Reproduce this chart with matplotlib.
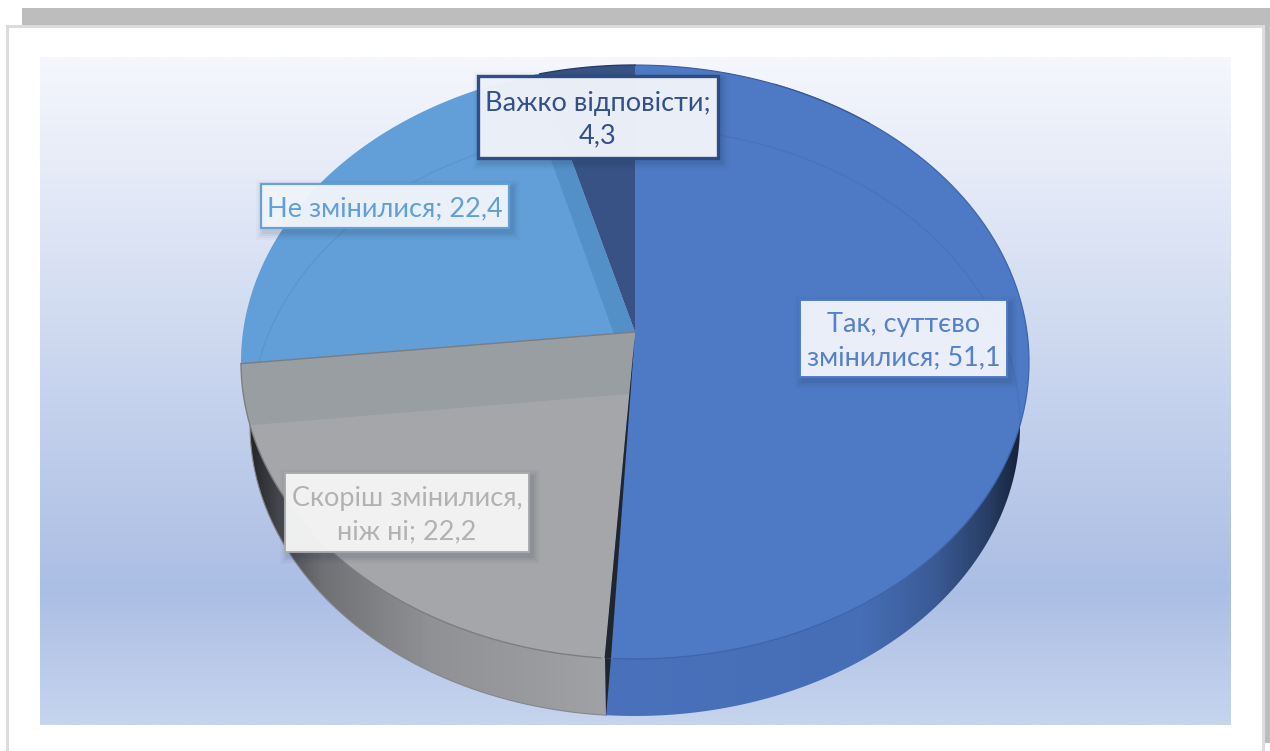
import numpy as np
import matplotlib
matplotlib.use("Agg")
import matplotlib.pyplot as plt
from matplotlib.patches import Polygon, Rectangle
from matplotlib.colors import LinearSegmentedColormap

plt.rcParams['font.family'] = ['Lato', 'DejaVu Sans']

# ---- data ----
categories = ["Так, суттєво\nзмінилися", "Скоріш змінилися,\nніж ні", "Не змінилися", "Важко відповісти;\n"]
values = [51.1, 22.2, 22.4, 4.3]
value_labels = ["51,1", "22,2", "22,4", "4,3"]
colors = ["#4e79c5", "#a5a6aa", "#629fd8", "#385285"]
text_colors = ["#5680cb", "#b2b2b4", "#629fd8", "#34508a"]
edge_colors = ["#4e79c5", "#a8a9ad", "#629fd8", "#2c4a80"]
edge_widths = [1.4, 1.4, 1.6, 2.4]
box_faces = ["#eff3fb", "#f5f5f5", "#f0f4fb", "#f0f3fa"]
label_boxes = [(800, 300, 1007, 377), (285, 473, 529, 552), (261, 184, 509, 228), (478, 76, 718, 158)]

# ---- geometry of the perspective pie (pixel space) ----
CX, AY = 635.0, 332.0
PA, PC, PD = -260.4, 0.101, 392.0


def project(px, py):
    w = 1 + PC * py
    return CX + PD * px / w, (PA * py + AY) / w


def arc(t0, t1, n=200):
    t = np.linspace(t0, t1, n)
    return np.column_stack(project(np.sin(t), np.cos(t)))


def rim(t0, t1, n=300):
    t = np.linspace(t0, t1, n)
    return np.column_stack((635 + 385 * np.sin(t), 425 - 291 * np.cos(t)))


fig = plt.figure(figsize=(12.7, 7.51), dpi=100)
ax = fig.add_axes([0, 0, 1, 1])
ax.set_axis_off()

# page chrome
ax.add_patch(Rectangle((22, 8), 1248, 17, fc="#bdbdbd", ec="none", zorder=0))
ax.add_patch(Rectangle((1262, 8), 8, 735, fc="#bdbdbd", ec="none", zorder=0))
ax.add_patch(Rectangle((7, 25.5), 1255.5, 740, fc="white", ec="#dcdcdc", lw=2.2, zorder=0.5))

# plot area gradient
stops = [(0.0, "#f5f7fd"), (0.8, "#abbee4"), (1.0, "#c6d4ed")]
grad = LinearSegmentedColormap.from_list("bg", stops)
ax.imshow(np.linspace(0, 1, 300)[:, None], cmap=grad, extent=(40, 1231, 725, 57),
          aspect="auto", zorder=1, vmin=0, vmax=1)

# extruded side: lower rim is an ellipse, split at the front of the pie
front = np.pi + np.arcsin(29 / 385)
side_left = LinearSegmentedColormap.from_list("sl", [(0, "#24262b"), (0.09, "#4a4c52"), (0.2, "#6f7175"),
                                                     (0.5, "#8f9195"), (1, "#a1a2a6")])
side_right = LinearSegmentedColormap.from_list("sr", [(0, "#4a72bc"), (0.62, "#466eb6"), (0.8, "#3a5a94"),
                                                      (0.93, "#273d63"), (1, "#16243c")])
im1 = ax.imshow(np.linspace(0, 1, 200)[None, :], cmap=side_left, extent=(250, 610, 720, 420), aspect="auto", zorder=2)
poly = Polygon(np.vstack([rim(front, 1.5 * np.pi), [(250, 350), (606, 350)]]), closed=True, fc="none", ec="none")
ax.add_patch(poly)
im1.set_clip_path(poly)
im2 = ax.imshow(np.linspace(0, 1, 200)[None, :], cmap=side_right, extent=(606, 1020, 720, 420), aspect="auto", zorder=2)
poly2 = Polygon(np.vstack([rim(0.5 * np.pi, front), [(606, 350), (1020, 350)]]), closed=True, fc="none", ec="none")
ax.add_patch(poly2)
im2.set_clip_path(poly2)
ax.plot(*rim(front, 1.5 * np.pi).T, color="#85878b", lw=0.8, zorder=2.1)
ax.add_patch(Polygon([(605, 658), (611, 658), (606, 717)], fc="#20262f", ec="none", zorder=2.2))

# top face, one wedge per value
edges = np.cumsum([0] + values) / sum(values) * 2 * np.pi
wedges = []
for i, v in enumerate(values):
    pts = np.vstack([project(0, 0), arc(edges[i], edges[i + 1])])
    w = Polygon(pts, closed=True, fc=colors[i], ec="none", zorder=3)
    ax.add_patch(w)
    wedges.append(w)

# lighter/darker facets
band = Polygon([(640, 325), (230, 362), (230, 427), (253, 425), (640, 393)], fc="#999ea2", ec="none", zorder=3.1)
ax.add_patch(band)
band.set_clip_path(wedges[1])
strip = Polygon([(613.5, 333), (515, 60), (545, 60), (640, 333)], fc="#5490c8", ec="none", zorder=3.1)
ax.add_patch(strip)
strip.set_clip_path(wedges[2])

# rim highlight on the back of the pie
t2 = np.linspace(-1.357, np.pi * 0.5, 300)
ax.plot(635 + 385 * np.sin(t2), 425 - 297 * np.cos(t2), color="#1c3560", alpha=0.09, lw=1, zorder=3.2)

# edges of the wedges
apex = project(0, 0)
p_end = arc(edges[2], edges[2], 1)[0]
ax.plot([apex[0], p_end[0]], [apex[1], p_end[1]], color="#7a7c80", lw=1.0, zorder=3.3)
ax.add_patch(Polygon([(apex[0], apex[1] + 1), (604.6, 658), (611, 658)], fc="#20262f", ec="none", zorder=3.3))
ax.plot(*arc(edges[1] + 0.01, edges[2], 100).T, color="#7c7e82", lw=1, zorder=3.3)
ax.plot(*arc(edges[0] + 0.4, edges[1] - 0.02, 200).T, color="#3f64a8", lw=0.9, zorder=3.3)
ax.plot(*arc(0.0, 0.7, 100).T, color="#3a5a98", lw=0.8, zorder=3.3)
ax.plot(*arc(edges[3], 2 * np.pi, 40).T, color="#263c66", lw=1, zorder=3.3)

# data labels
for i, (x0, y0, x1, y1) in enumerate(label_boxes):
    for grow, a in [(8, 0.025), (6, 0.035), (4, 0.05), (2, 0.06)]:
        ax.add_patch(Rectangle((x0 + 3 - grow, y0 + 4 - grow), x1 - x0 + 2 * grow, y1 - y0 + 2 * grow,
                               fc="#1a2a40", ec="none", alpha=a, zorder=4))
    ax.add_patch(Rectangle((x0, y0), x1 - x0, y1 - y0, fc=box_faces[i], ec=edge_colors[i],
                           lw=edge_widths[i], alpha=0.97, zorder=5))
    sep = "" if categories[i].endswith("\n") else "; "
    ax.text((x0 + x1) / 2, (y0 + y1) / 2 + 2.5, categories[i] + sep + value_labels[i],
            ha="center", va="center", ma="center", fontsize=19.5, linespacing=1.4,
            color=text_colors[i], zorder=6)

ax.set_xlim(0, 1270)
ax.set_ylim(751, 0)
fig.savefig("out.png", dpi=100)
